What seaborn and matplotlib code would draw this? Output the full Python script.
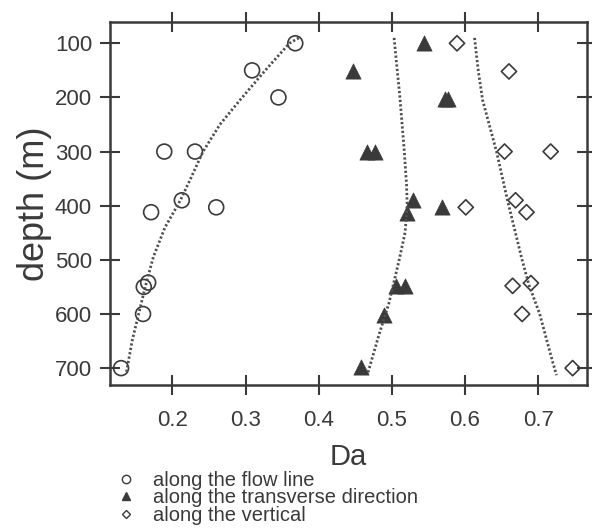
import pandas as pd
import seaborn as sns
import matplotlib.pyplot as plt
from matplotlib.lines import Line2D

flow_da = [0.368, 0.309, 0.345, 0.189, 0.231, 0.213, 0.171, 0.26, 0.161, 0.167, 0.16, 0.13]
flow_depth = [100, 150, 200, 300, 300, 390, 412, 403, 550, 542, 600, 700]

trans_da = [0.544, 0.447, 0.572, 0.577, 0.466, 0.477, 0.529, 0.521, 0.568, 0.506, 0.518, 0.489, 0.458]
trans_depth = [100, 152, 203, 203, 300, 300, 390, 414, 403, 548, 548, 602, 698]

vert_da = [0.589, 0.66, 0.654, 0.717, 0.601, 0.669, 0.684, 0.665, 0.69, 0.678, 0.747]
vert_depth = [100, 152, 300, 300, 403, 390, 412, 548, 543, 600, 700]

# dotted trend curves
fit1_da = [0.373, 0.36, 0.327, 0.293, 0.265, 0.242, 0.225, 0.211, 0.19, 0.174, 0.163, 0.154, 0.145, 0.137]
fit1_depth = [90, 100, 150, 204, 250, 300, 350, 390, 440, 495, 550, 600, 650, 710]
fit2_da = [0.503, 0.511, 0.517, 0.52, 0.521, 0.518, 0.51, 0.496, 0.482, 0.467]
fit2_depth = [90, 200, 300, 360, 400, 450, 500, 580, 640, 710]
fit3_da = [0.613, 0.618, 0.624, 0.643, 0.658, 0.677, 0.687, 0.702, 0.72, 0.725]
fit3_depth = [90, 150, 205, 300, 390, 495, 545, 600, 690, 713]

labels = ['along the flow line', 'along the transverse direction', 'along the vertical']

sns.set_style('ticks')
plt.rcParams['font.family'] = ['Liberation Sans', 'DejaVu Sans']
ink = '#3a3a3a'

fig = plt.figure(figsize=(5.92, 5.28), dpi=100)
ax = fig.add_axes([0.186, 0.271, 0.806, 0.687])

for fda, fdep in [(fit1_da, fit1_depth), (fit2_da, fit2_depth), (fit3_da, fit3_depth)]:
    sns.lineplot(x=fda, y=fdep, sort=False, estimator=None, ax=ax, color='#505050',
                 linewidth=2, linestyle=(0, (0.8, 0.8)))

sns.scatterplot(x=flow_da, y=flow_depth, ax=ax, marker='o', s=115,
                facecolor='none', edgecolor=ink, linewidth=1.2)
sns.scatterplot(x=trans_da, y=trans_depth, ax=ax, marker='^', s=120,
                color=ink, edgecolor=ink, linewidth=0.5)
sns.scatterplot(x=vert_da, y=vert_depth, ax=ax, marker='D', s=60,
                facecolor='none', edgecolor=ink, linewidth=1.2)

ax.set_xlim(0.115, 0.767)
ax.set_ylim(731, 61)
ax.set_xticks([0.2, 0.3, 0.4, 0.5, 0.6, 0.7])
ax.set_yticks([100, 200, 300, 400, 500, 600, 700])
ax.tick_params(direction='inout', length=14, width=1.5, color=ink, labelcolor=ink,
               labelsize=16, top=True, right=True)
ax.tick_params(axis='x', pad=11)
ax.tick_params(axis='y', pad=6)
for sp in ax.spines.values():
    sp.set_visible(True)
    sp.set_linewidth(1.8)
    sp.set_color(ink)
ax.set_xlabel('Da', fontsize=21, color=ink, labelpad=9)
ax.set_ylabel('depth (m)', fontsize=26, color=ink, labelpad=2)

handles = [
    Line2D([], [], marker='o', linestyle='none', markersize=6, markerfacecolor='none',
           markeredgecolor=ink, markeredgewidth=1),
    Line2D([], [], marker='^', linestyle='none', markersize=6, color=ink),
    Line2D([], [], marker='D', linestyle='none', markersize=4.5, markerfacecolor='none',
           markeredgecolor=ink, markeredgewidth=1),
]
fig.legend(handles, labels, loc='upper left', bbox_to_anchor=(0.196, 0.108), frameon=False,
           fontsize=14.5, labelcolor=ink, handlelength=1, handletextpad=0.85,
           labelspacing=-0.08, borderaxespad=0, borderpad=0)

fig.savefig('out.png', dpi=100)
